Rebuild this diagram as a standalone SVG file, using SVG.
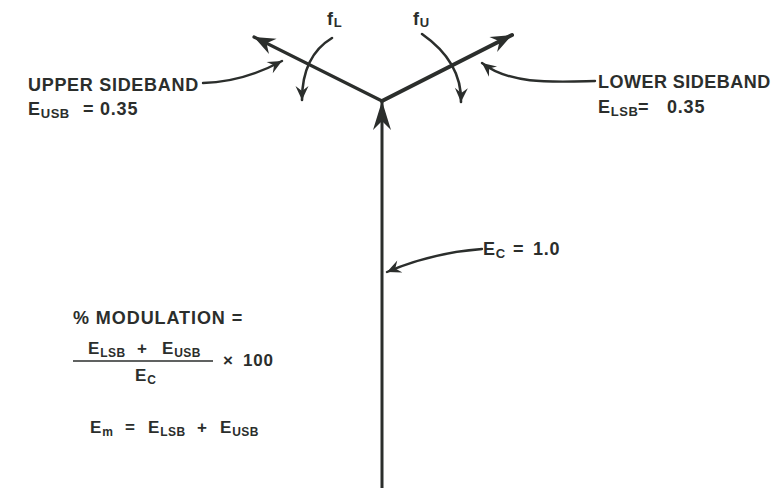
<svg xmlns="http://www.w3.org/2000/svg" width="776" height="488" viewBox="0 0 776 488">
<style>
  text { font-family: "Liberation Sans", Arial, sans-serif; font-weight: bold; fill: #2b2e2c; font-size: 18px; letter-spacing: 0.8px; }
  .sub { font-size: 13px; letter-spacing: 0.5px; }
  .f { font-size: 17px; }
  .f .sub { font-size: 12px; }
  .ln { fill: none; stroke: #2b2e2c; stroke-linecap: round; }
</style>
<defs>
  <marker id="bigHead" markerUnits="userSpaceOnUse" viewBox="-24 -10 26 20" refX="0" refY="0" markerWidth="26" markerHeight="20" orient="auto">
    <path d="M0,0 L-21,-8.5 L-14,0 L-21,8.5 Z" fill="#2b2e2c"/>
  </marker>
  <marker id="vertHead" markerUnits="userSpaceOnUse" viewBox="-32 -12 34 24" refX="0" refY="0" markerWidth="34" markerHeight="24" orient="auto">
    <path d="M0,0 L-29,-9 L-20,0 L-29,9 Z" fill="#2b2e2c"/>
  </marker>
  <marker id="smallHead" markerUnits="userSpaceOnUse" viewBox="-16 -8 18 16" refX="0" refY="0" markerWidth="18" markerHeight="16" orient="auto">
    <path d="M0,0 L-14,-6.5 L-9,0 L-14,6.5 Z" fill="#2b2e2c"/>
  </marker>
</defs>

<g id="connectors">
  <path id="carrier" class="ln" d="M382,488 L382,101" stroke-width="3" marker-end="url(#vertHead)"/>
  <path id="usb-vector" class="ln" d="M382,101 L254,37" stroke-width="3.2" marker-end="url(#bigHead)"/>
  <path id="lsb-vector" class="ln" d="M382,101 L512,35" stroke-width="4" marker-end="url(#bigHead)"/>
  <path id="fl-rotation" class="ln" d="M332,38 Q302,56 302,100" stroke-width="2.6" marker-end="url(#smallHead)"/>
  <path id="fu-rotation" class="ln" d="M422,34 Q462,62 461,102" stroke-width="2.6" marker-end="url(#smallHead)"/>
  <path id="usb-pointer" class="ln" d="M203,83 Q243,82 282,61" stroke-width="2.4" marker-end="url(#smallHead)"/>
  <path id="lsb-pointer" class="ln" d="M595,81 C555,82 510,85 482,63" stroke-width="2.4" marker-end="url(#smallHead)"/>
  <path id="ec-pointer" class="ln" d="M482,249 Q431,253 387,272" stroke-width="2.4" marker-end="url(#smallHead)"/>
</g>

<g id="label-fl">
  <text x="327" y="25">f<tspan class="sub" dy="2">L</tspan></text>
</g>
<g id="label-fu">
  <text x="413" y="25">f<tspan class="sub" dy="2">U</tspan></text>
</g>

<g id="upper-sideband">
  <text x="28" y="91" textLength="171" lengthAdjust="spacing">UPPER SIDEBAND</text>
  <text x="28" y="115">E<tspan class="sub" dy="3">USB</tspan><tspan x="83" dy="-3">=</tspan><tspan x="100">0.35</tspan></text>
</g>

<g id="lower-sideband">
  <text x="598" y="88" textLength="173" lengthAdjust="spacing">LOWER SIDEBAND</text>
  <text x="598" y="113">E<tspan class="sub" dy="3">LSB</tspan><tspan x="638" dy="-3">=</tspan><tspan x="667">0.35</tspan></text>
</g>

<g id="carrier-label">
  <text x="483" y="255">E<tspan class="sub" dy="3">C</tspan><tspan x="513" dy="-3">=</tspan><tspan x="533">1.0</tspan></text>
</g>

<g id="modulation-formula">
  <text x="73" y="324" textLength="170" lengthAdjust="spacing">% MODULATION =</text>
  <text class="f" x="88" y="354">E<tspan class="sub" dy="3">LSB</tspan><tspan x="137" dy="-3">+</tspan><tspan x="162">E</tspan><tspan class="sub" dy="3">USB</tspan></text>
  <line x1="73" y1="361" x2="213" y2="361" stroke="#2b2e2c" stroke-width="1.3"/>
  <text class="f" x="135" y="381">E<tspan class="sub" dy="3">C</tspan></text>
  <text class="f" x="223" y="366">×<tspan x="243">100</tspan></text>
</g>

<g id="em-formula">
  <text class="f" x="90" y="433">E<tspan class="sub" dy="3">m</tspan><tspan x="125" dy="-3">=</tspan><tspan x="148">E</tspan><tspan class="sub" dy="3">LSB</tspan><tspan x="197" dy="-3">+</tspan><tspan x="220">E</tspan><tspan class="sub" dy="3">USB</tspan></text>
</g>
</svg>
